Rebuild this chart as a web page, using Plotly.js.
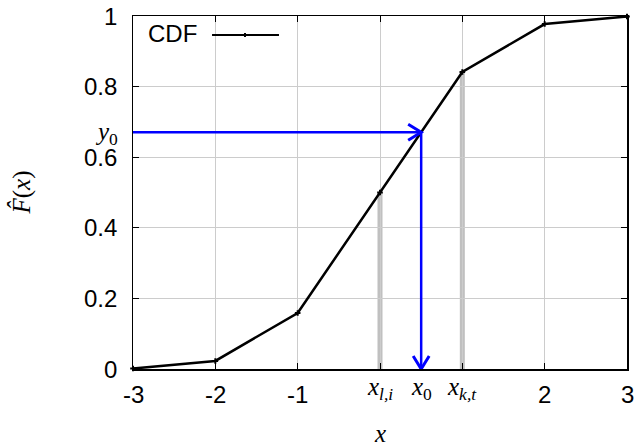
<!DOCTYPE html>
<html><head><meta charset="utf-8">
<script src="https://cdn.plot.ly/plotly-3.0.1.min.js"></script>
<style>html,body{margin:0;padding:0;background:#fff}#chart{width:637px;height:446px}</style>
</head><body><div id="chart"></div>
<script>
// data
const xs = [-3, -2, -1, 0, 1, 2, 3];
const cdf = [0.0013, 0.0228, 0.1587, 0.5, 0.8413, 0.9772, 0.9987];
const tickVals = [-3, -2, -1, 0, 1, 2, 3];
const tickText = ['-3', '-2', '-1', '', '', '2', '3'];
const yTickVals = [0, 0.2, 0.4, 0.6, 0.8, 1];
const yTickText = ['0', '0.2', '0.4', '0.6', '0.8', '1'];
const x0 = 0.5;
const y0 = 0.6705;
const xLeft = -3;
const bracketX = [0, 1];
const bracketY = [0.5, 0.8413];
const xLabels = ['<i>x</i><sub><i>l,i</i></sub>', '<i>x</i><sub>0</sub>', '<i>x</i><sub><i>k,t</i></sub>'];
const xLabelPos = [0, 0.5, 1];

const blue = '#0000ff';
const serif = 'Liberation Serif, DejaVu Serif, serif';
const sans = 'Liberation Sans, Arial, sans-serif';

const shapes = [];
bracketX.forEach((bx, i) => {
  shapes.push({type: 'line', xref: 'x', yref: 'y', x0: bx, x1: bx, y0: 0, y1: bracketY[i],
    line: {color: '#c0c0c0', width: 5}, layer: 'below'});
});
shapes.push({type: 'line', xref: 'x', yref: 'y', x0: xLeft, x1: x0, y0: y0, y1: y0, line: {color: blue, width: 2.5}});
shapes.push({type: 'line', xref: 'x', yref: 'y', x0: x0, x1: x0, y0: y0, y1: 0, line: {color: blue, width: 2.5}});
shapes.push({type: 'path', xref: 'x', yref: 'y', xsizemode: 'pixel', ysizemode: 'pixel',
  xanchor: x0, yanchor: y0, path: 'M -13 8 L 0 0 L -13 -8', line: {color: blue, width: 3}});
shapes.push({type: 'path', xref: 'x', yref: 'y', xsizemode: 'pixel', ysizemode: 'pixel',
  xanchor: x0, yanchor: 0, path: 'M -8 13 L 0 0 L 8 13', line: {color: blue, width: 3}});
// legend sample
shapes.push({type: 'line', xref: 'paper', yref: 'paper', x0: 0.16, x1: 0.2955, y0: 0.946, y1: 0.946,
  line: {color: 'black', width: 2}});
shapes.push({type: 'path', xref: 'paper', yref: 'paper', xsizemode: 'pixel', ysizemode: 'pixel',
  xanchor: 0.2267, yanchor: 0.946, path: 'M -2 0 L 2 0 M 0 -2 L 0 2', line: {color: 'black', width: 2}});

const annotations = [];
// x tick labels
tickVals.forEach((v, i) => {
  if (!tickText[i]) return;
  annotations.push({x: v, y: 0, xref: 'x', yref: 'y', text: tickText[i], showarrow: false,
    xanchor: 'center', yanchor: 'top', yshift: -10, font: {family: sans, size: 24, color: '#000'}});
});
// y tick labels
yTickVals.forEach((v, i) => {
  annotations.push({x: 0, y: v, xref: 'paper', yref: 'y', text: yTickText[i], showarrow: false,
    xanchor: 'right', yanchor: 'middle', xshift: -14, font: {family: sans, size: 24, color: '#000'}});
});
// math labels below axis
xLabels.forEach((t, i) => {
  annotations.push({x: xLabelPos[i], y: 0, xref: 'x', yref: 'y', text: t, showarrow: false,
    yanchor: 'top', yshift: -2, font: {family: serif, size: 25, color: '#000'}});
});
annotations.push({x: 0, y: y0, xref: 'paper', yref: 'y', text: '<i>y</i><sub>0</sub>', showarrow: false,
  xanchor: 'right', yanchor: 'top', xshift: -13, yshift: 16, font: {family: serif, size: 25, color: '#000'}});
// axis titles
annotations.push({x: 0.5, y: 0, xref: 'paper', yref: 'paper', text: '<i>x</i>', showarrow: false,
  xanchor: 'center', yanchor: 'top', yshift: -49, font: {family: serif, size: 25, color: '#000'}});
annotations.push({x: 0, y: 0.5, xref: 'paper', yref: 'paper', text: '<i>F̂</i>(<i>x</i>)', showarrow: false,
  textangle: -90, xanchor: 'center', yanchor: 'middle', xshift: -112, font: {family: serif, size: 25, color: '#000'}});
// legend text
annotations.push({x: 0.026, y: 0.95, xref: 'paper', yref: 'paper', text: 'CDF', showarrow: false,
  xanchor: 'left', yanchor: 'middle', font: {family: sans, size: 24, color: '#000'}});

const trace = {
  x: xs, y: cdf, type: 'scatter', mode: 'lines+markers',
  line: {color: 'black', width: 2.5},
  marker: {symbol: 'cross-thin', size: 4, line: {color: 'black', width: 2}, color: 'black'},
  showlegend: false, cliponaxis: false
};

const layout = {
  width: 637, height: 446,
  margin: {l: 133, r: 10, t: 16, b: 77},
  paper_bgcolor: '#fff', plot_bgcolor: '#fff',
  showlegend: false,
  xaxis: {
    range: [-3, 3], tickvals: tickVals, showticklabels: false,
    showgrid: true, gridcolor: '#cccccc', gridwidth: 1,
    zeroline: false, showline: true, linecolor: 'black', linewidth: 1.5, mirror: 'ticks',
    ticks: 'inside', ticklen: 6, tickcolor: 'black', tickwidth: 1
  },
  yaxis: {
    range: [0, 1], tickvals: yTickVals, showticklabels: false,
    showgrid: true, gridcolor: '#cccccc', gridwidth: 1,
    zeroline: false, showline: true, linecolor: 'black', linewidth: 1.5, mirror: 'ticks',
    ticks: 'inside', ticklen: 6, tickcolor: 'black', tickwidth: 1
  },
  shapes: shapes,
  annotations: annotations
};

Plotly.newPlot('chart', [trace], layout, {displayModeBar: false, staticPlot: true});
</script></body></html>
